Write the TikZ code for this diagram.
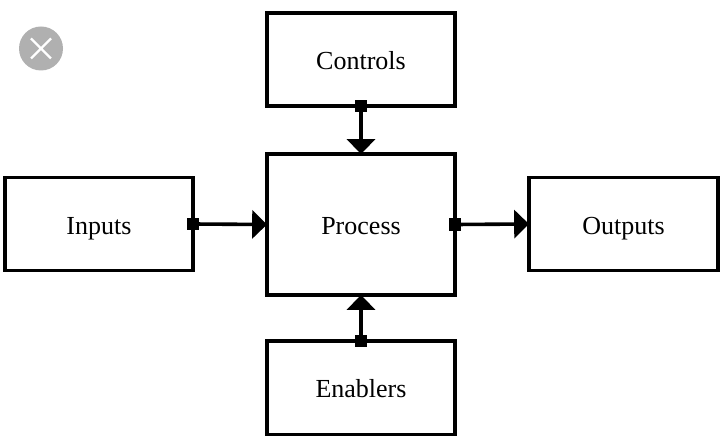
\documentclass[tikz,border=0pt]{standalone}
\usepackage{fontspec}
\setmainfont{Liberation Serif}
\usetikzlibrary{arrows.meta}
\definecolor{closegray}{RGB}{176,176,176}
\tikzset{
  block/.style={draw=black,line width=0.085cm,minimum width=4.7cm,minimum height=2.325cm,outer sep=0pt,inner sep=0pt,text height=0.55cm,text depth=0.05cm,font=\fontsize{18.5}{20}\selectfont},
  port/.style={fill=black,minimum size=0.31cm,inner sep=0pt,outer sep=0pt},
  flow/.style={line width=0.09cm,-{Triangle[length=0.37cm,width=0.7cm]}}
}
\begin{document}
\begin{tikzpicture}[x=0.025cm,y=-0.025cm]
  \useasboundingbox (0,0) rectangle (720,439);
  \fill[closegray] (41,48.5) circle (22);
  \draw[white,line width=0.055cm] (31,38.5) -- (51,58.5) (51,38.5) -- (31,58.5);

  \node[block] (controls) at (361,59.5) {Controls};
  \node[block,minimum height=3.525cm] (process) at (361,224.5) {Process};
  \node[block] (enablers) at (361,387.7) {Enablers};
  \node[block] (inputs) at (99,224) {Inputs};
  \node[block,minimum width=4.725cm] (outputs) at (623.5,224) {Outputs};

  \node[port] (controlsport) at (controls.south) {};
  \node[port] (enablersport) at (enablers.north) {};
  \node[port] (inputsport) at (inputs.east) {};
  \node[port] (processport) at (process.east) {};

  \draw[flow] (controlsport) -- (process.north);
  \draw[flow] (enablersport) -- (process.south);
  \draw[flow] (inputsport) -- (process.west);
  \draw[flow] (processport) -- (outputs.west);
\end{tikzpicture}
\end{document}
